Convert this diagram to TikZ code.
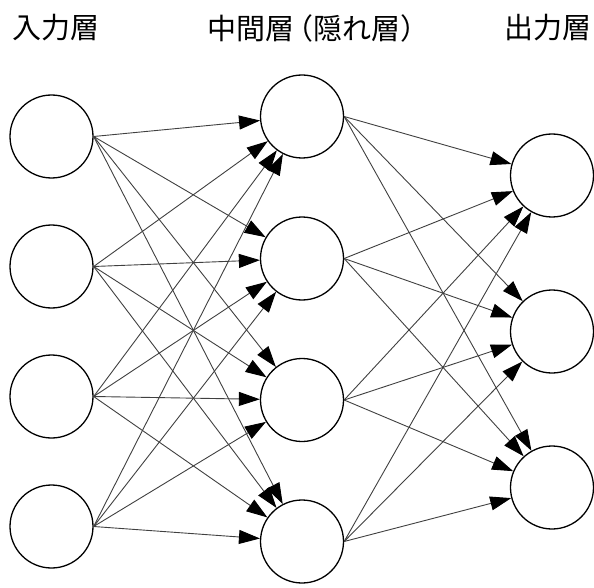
\documentclass[tikz,border=0pt]{standalone}
\usepackage{fontspec}
\setmainfont{Noto Sans CJK JP}
\usepackage{tikz}
\usetikzlibrary{arrows.meta}

\begin{document}
\begin{tikzpicture}[x=1pt, y=-1pt,
        neuron/.style={circle, draw, line width=1.3pt, minimum size=83pt, inner sep=0pt},
        link/.style={-{Triangle[length=21pt, width=14pt, color=black]}, line width=0.9pt, draw=black!75},
        title/.style={anchor=west, inner sep=0pt, font=\fontsize{29}{34}\selectfont}]
        \useasboundingbox (0, 0) rectangle (594, 588);

        \node[title] at (12, 28) {入力層};
        \node[title] at (207, 28) {中間層\kern-10pt（隠れ層）};
        \node[title] at (504, 28) {出力層};

        \node[neuron] (I1) at (51.5, 136.5) {};
        \node[neuron] (I2) at (51.5, 266.5) {};
        \node[neuron] (I3) at (51.5, 396.5) {};
        \node[neuron] (I4) at (51.5, 526.5) {};

        \node[neuron] (H1) at (302, 116.5) {};
        \node[neuron] (H2) at (302, 258.5) {};
        \node[neuron] (H3) at (302, 400) {};
        \node[neuron] (H4) at (302, 541.5) {};

        \node[neuron] (O1) at (552, 175.5) {};
        \node[neuron] (O2) at (552, 331.5) {};
        \node[neuron] (O3) at (552, 487.5) {};

        \draw[link] (I1.east) to (H1);
        \draw[link] (I1.east) to (H2);
        \draw[link] (I1.east) to (H3);
        \draw[link] (I1.east) to (H4);

        \draw[link] (I2.east) to (H1);
        \draw[link] (I2.east) to (H2);
        \draw[link] (I2.east) to (H3);
        \draw[link] (I2.east) to (H4);

        \draw[link] (I3.east) to (H1);
        \draw[link] (I3.east) to (H2);
        \draw[link] (I3.east) to (H3);
        \draw[link] (I3.east) to (H4);

        \draw[link] (I4.east) to (H1);
        \draw[link] (I4.east) to (H2);
        \draw[link] (I4.east) to (H3);
        \draw[link] (I4.east) to (H4);

        \draw[link] (H1.east) to (O1);
        \draw[link] (H1.east) to (O2);
        \draw[link] (H1.east) to (O3);

        \draw[link] (H2.east) to (O1);
        \draw[link] (H2.east) to (O2);
        \draw[link] (H2.east) to (O3);

        \draw[link] (H3.east) to (O1);
        \draw[link] (H3.east) to (O2);
        \draw[link] (H3.east) to (O3);

        \draw[link] (H4.east) to (O1);
        \draw[link] (H4.east) to (O2);
        \draw[link] (H4.east) to (O3);
\end{tikzpicture}
\end{document}
